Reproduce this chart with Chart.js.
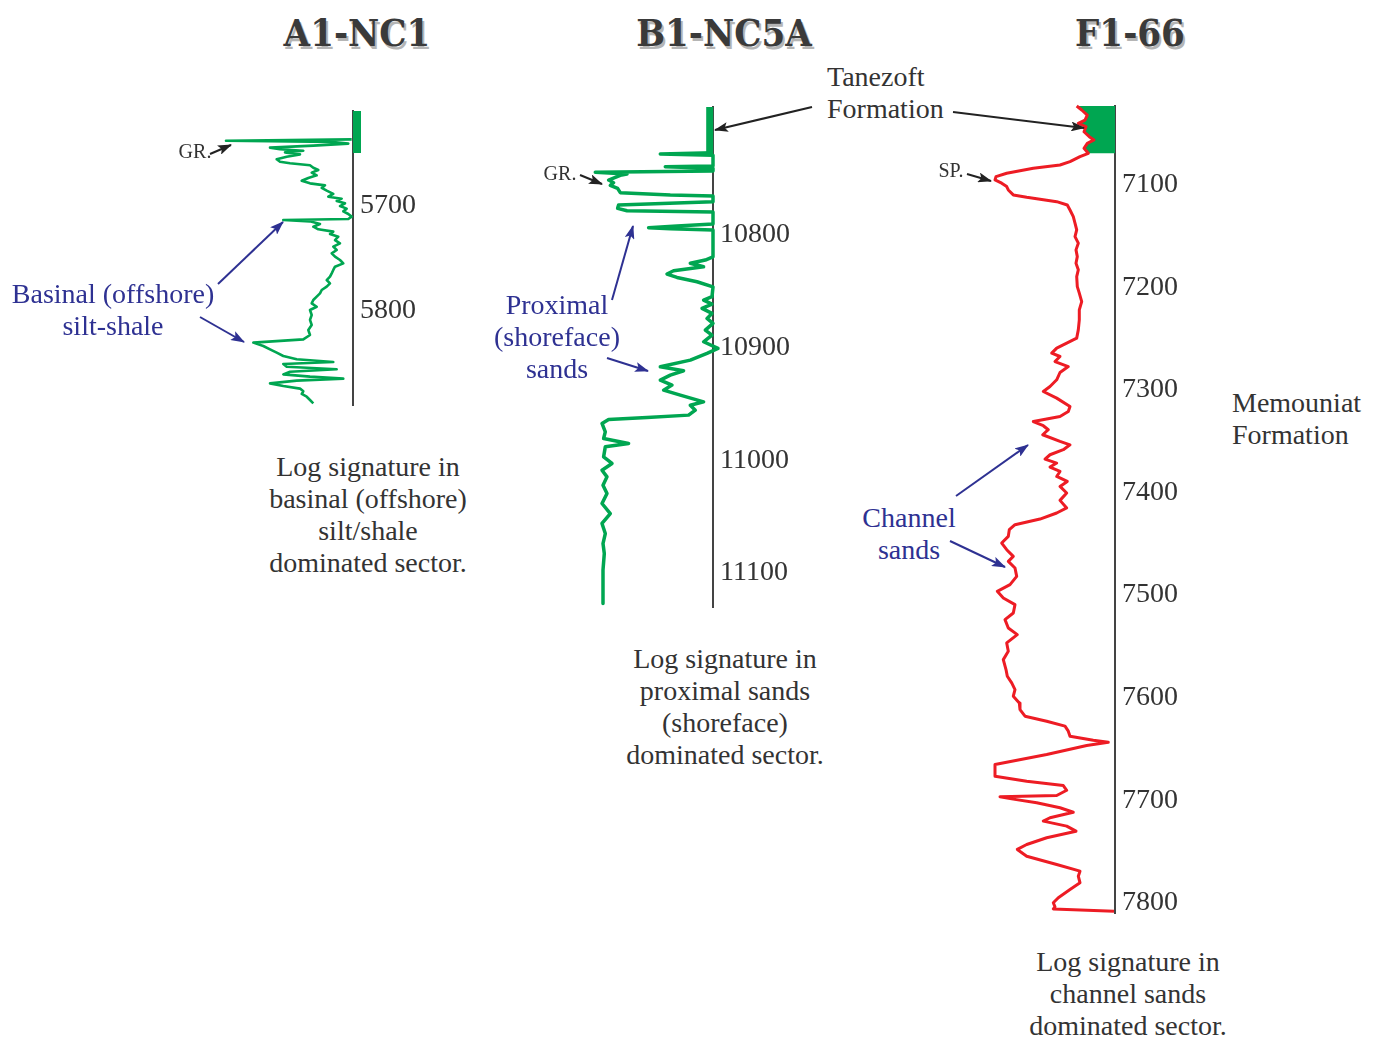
<!DOCTYPE html>
<html>
<head>
<meta charset="utf-8">
<title>Well log signatures</title>
<script src="https://cdn.jsdelivr.net/npm/chart.js@4.4.0/dist/chart.umd.min.js"></script>
<style>
  body { margin: 0; width: 1381px; height: 1038px; background: #fff; position: relative; overflow: hidden;
         font-family: "Liberation Serif", serif; color: #333; }
  .log { position: absolute; }
  .t { position: absolute; white-space: nowrap; font-size: 28px; line-height: 32px; text-align: center; transform: translateX(-50%); }
  .l { position: absolute; white-space: nowrap; font-size: 28px; line-height: 32px; text-align: left; }
  .small { font-size: 20px; line-height: 24px; }
  .blue { color: #2e3192; }
  .title { position: absolute; white-space: nowrap; font-family: "DejaVu Serif Condensed", "DejaVu Serif", serif; font-weight: bold;
           font-size: 38px; color: #3a3a3a; text-shadow: 2px 3px 0 #b5b5b5; transform: translate(-50%, -50%); }
  svg { position: absolute; left: 0; top: 0; }
</style>
</head>
<body>

<div class="title" style="left:357px; top:32px;">A1-NC1</div>
<div class="title" style="left:724px; top:32px;">B1-NC5A</div>
<div class="title" style="left:1130px; top:32px;">F1-66</div>

<div class="log" style="left:197px; top:105px;"><canvas id="logA" width="246" height="306"></canvas></div>
<div class="log" style="left:557px; top:101px;"><canvas id="logB" width="246" height="512"></canvas></div>
<div class="log" style="left:959px; top:100px;"><canvas id="logF" width="246" height="819"></canvas></div>

<div class="l" style="left:827px; top:61px;">Tanezoft<br>Formation</div>
<div class="l" style="left:1232px; top:387px;">Memouniat<br>Formation</div>
<div class="t small" style="left:195px; top:139px;">GR.</div>
<div class="t small" style="left:560px; top:161px;">GR.</div>
<div class="t small" style="left:951px; top:158px;">SP.</div>
<div class="t blue" style="left:113px; top:278px;">Basinal (offshore)<br>silt-shale</div>
<div class="t blue" style="left:557px; top:289px;">Proximal<br>(shoreface)<br>sands</div>
<div class="t blue" style="left:909px; top:502px;">Channel<br>sands</div>
<div class="t" style="left:368px; top:451px;">Log signature in<br>basinal (offshore)<br>silt/shale<br>dominated sector.</div>
<div class="t" style="left:725px; top:643px;">Log signature in<br>proximal sands<br>(shoreface)<br>dominated sector.</div>
<div class="t" style="left:1128px; top:946px;">Log signature in<br>channel sands<br>dominated sector.</div>

<svg width="1381" height="1038">
  <defs>
    <marker id="hk" viewBox="0 0 14 10" refX="13" refY="5" markerWidth="7" markerHeight="5" orient="auto">
      <path d="M0,0 L14,5 L0,10 L3,5 z" fill="#222"/>
    </marker>
    <marker id="hb" viewBox="0 0 14 10" refX="13" refY="5" markerWidth="7" markerHeight="5" orient="auto">
      <path d="M0,0 L14,5 L0,10 L3,5 z" fill="#2e3192"/>
    </marker>
  </defs>
  <g stroke="#222" stroke-width="2" marker-end="url(#hk)">
    <line x1="210" y1="154" x2="231" y2="145"/>
    <line x1="580" y1="175" x2="602" y2="184"/>
    <line x1="967" y1="174" x2="991" y2="181"/>
    <line x1="812" y1="107" x2="715" y2="130"/>
    <line x1="953" y1="112" x2="1084" y2="128"/>
  </g>
  <g stroke="#2e3192" stroke-width="2" marker-end="url(#hb)">
    <line x1="218" y1="284" x2="283" y2="222"/>
    <line x1="200" y1="317" x2="244" y2="342"/>
    <line x1="612" y1="300" x2="633" y2="226"/>
    <line x1="607" y1="358" x2="648" y2="371"/>
    <line x1="956" y1="496" x2="1028" y2="445"/>
    <line x1="950" y1="541" x2="1005" y2="567"/>
  </g>
</svg>

<script>
// A1-NC1 gamma ray (depth ft / API)
const a1Depth = [5637.0, 5638.3, 5639.5, 5641.1, 5643.0, 5644.9, 5646.5, 5647.8, 5649.4, 5651.3, 5653.5, 5656.0, 5658.3,
  5659.8, 5661.7, 5664.0, 5666.2, 5668.7, 5671.3, 5673.8, 5676.4, 5678.9, 5680.8, 5683.3, 5685.9, 5689.0, 5691.6, 5693.5,
  5695.7, 5697.9, 5700.5, 5703.0, 5705.6, 5708.1, 5710.6, 5712.9, 5713.8, 5715.1, 5717.6, 5720.2, 5722.7, 5724.9, 5727.1,
  5729.7, 5732.9, 5736.0, 5739.2, 5742.4, 5745.6, 5748.7, 5751.9, 5755.1, 5758.3, 5761.4, 5764.6, 5767.8, 5771.0, 5774.1,
  5777.3, 5780.5, 5783.7, 5786.8, 5790.0, 5793.2, 5796.4, 5799.5, 5804.3, 5809.0, 5813.8, 5818.6, 5823.3, 5827.5, 5830.6,
  5833.8, 5837.0, 5840.2, 5843.3, 5846.5, 5849.0, 5851.0, 5853.5, 5856.0, 5858.3, 5860.8, 5863.0, 5864.9, 5866.8, 5869.4,
  5871.9, 5874.4, 5877.0, 5879.5, 5882.1, 5885.2, 5888.4];
const a1Gamma = [148.7, 23, 130.3, 145.3, 110.3, 67, 77, 100.3, 82, 97, 83.7, 73.7, 77,
  87, 107, 110.3, 115.3, 108.7, 113.7, 105.3, 98.7, 107, 122, 118.7, 123.7, 130.3, 125.3, 138.7,
  133.7, 142, 137, 143.7, 140.3, 145.3, 148.7, 145.3, 80.3, 107, 117, 110.3, 115.3, 130.3, 127,
  135.3, 132, 137, 130.3, 133.7, 128.7, 132, 137, 140.3, 132, 130.3, 128.7, 127, 123.7, 127,
  123.7, 118.7, 117, 113.7, 110.3, 108.7, 113.7, 107, 108.7, 107, 108.7, 105.3, 107, 100.3, 50.3,
  60.3, 67, 73.7, 80.3, 93.7, 130.3, 80.3, 83.7, 133.7, 87, 80.3, 107, 140.3, 93.7, 67,
  80.3, 97, 100.3, 98.7, 103.7, 107, 110.3];

// B1-NC5A gamma ray
const b1Depth = [10727.5, 10728.6, 10729.8, 10739.3, 10739.9, 10741.3, 10743.7, 10744.9, 10746.4, 10747.5, 10749.3,
  10751.7, 10754.1, 10756.4, 10759.1, 10762.9, 10765.0, 10765.9, 10770.9, 10773.8, 10776.8, 10778.9, 10780.0, 10790.7,
  10792.5, 10794.0, 10794.9, 10796.0, 10819.7, 10822.6, 10825.5, 10828.5, 10832.1, 10835.0, 10838.0, 10841.8, 10846.3,
  10855.1, 10858.1, 10861.6, 10865.4, 10869.9, 10874.3, 10878.7, 10884.7, 10889.1, 10895.0, 10900.9, 10905.3, 10911.3,
  10917.2, 10920.7, 10924.6, 10929.0, 10933.4, 10937.9, 10942.3, 10948.2, 10951.2, 10955.6, 10960.0, 10962.1, 10963.8,
  10967.4, 10974.8, 10980.7, 10985.1, 10988.1, 10997.0, 11002.8, 11008.8, 11014.7, 11022.1, 11029.4, 11038.3, 11047.2,
  11056.0, 11064.9, 11073.8, 11082.6, 11097.4, 11127.0];
const b1Gamma = [150, 97.3, 150, 150, 102.3, 150, 150, 32.3, 64, 57.3, 52.3,
  45.6, 50.6, 47.3, 54.6, 57.3, 107.3, 150, 150, 55.6, 54.6, 64, 150, 150,
  114, 85.6, 107.3, 150, 150, 142.3, 127.3, 140.6, 110.6, 104, 114, 134, 150,
  149, 140.6, 149, 139, 149, 144, 150, 142.3, 149, 140.6, 155, 144, 127.3,
  97.3, 120.6, 107.3, 97.3, 109, 100.6, 117.3, 140.6, 127.3, 132.3, 125.6, 84, 45.6,
  39, 42.3, 40.6, 65.6, 42.3, 40.6, 49, 39, 44, 40, 44, 39, 47.3,
  39, 42.3, 40, 41.3, 40, 40];

// F1-66 spontaneous potential
const f1Depth = [7023, 7026.9, 7031.8, 7036.7, 7039.9, 7043.2, 7048.1, 7052.9, 7056.1, 7059.4, 7064.2, 7069.1, 7072.4,
  7077.3, 7080.5, 7083.7, 7088.6, 7091.9, 7095.1, 7098.3, 7101.6, 7104.9, 7109.7, 7112, 7116.3, 7119.5, 7124.4, 7130.9,
  7137.3, 7143.9, 7150.4, 7156.8, 7163.3, 7169.9, 7176.3, 7182.8, 7189.4, 7199.1, 7205.5, 7213.7, 7221.8, 7231.6, 7241.3,
  7249.4, 7254.3, 7259.1, 7264, 7267.3, 7272.2, 7277.1, 7282.9, 7290, 7296.5, 7301.4, 7307.9, 7316, 7320.9, 7325.8,
  7330.7, 7334.8, 7338.7, 7343.6, 7350.1, 7353.4, 7358.2, 7363.1, 7367.3, 7371.2, 7375.1, 7379.4, 7384.3, 7389.1, 7394,
  7400.4, 7407.6, 7415, 7419.9, 7425.8, 7431.3, 7436.2, 7442.7, 7449.2, 7455.7, 7462.2, 7467.1, 7473.5, 7481.7, 7489.8,
  7496.3, 7502.8, 7509.3, 7517.4, 7523.9, 7532, 7538.5, 7546.6, 7554.8, 7562.9, 7572.6, 7579.1, 7585.6, 7592.1, 7598.6,
  7605.1, 7611.6, 7618.1, 7623, 7627.8, 7632.7, 7637.6, 7641.5, 7643.5, 7646.7, 7655.5, 7665.2, 7676.6, 7681.5, 7685.7,
  7690.3, 7695.4, 7696.7, 7698.7, 7702.5, 7707.4, 7711.7, 7717.1, 7720.4, 7725.3, 7730.2, 7736.6, 7743.2, 7748, 7754.6,
  7762.7, 7769.2, 7774.1, 7780.5, 7787.1, 7795.1, 7800, 7804, 7806, 7808.3];
const f1SP = [111.7, 116.7, 122.3, 120, 113.3, 121, 119, 124.3, 129, 122.3, 119, 123.3, 115,
  105, 95, 68.3, 41.7, 31, 30, 36.7, 41.7, 43.3, 48.3, 61.7, 91.7, 102.3, 105, 108.3,
  110, 111.7, 110, 113.3, 111, 112.3, 111, 113.3, 111.7, 112.3, 114.3, 116.7, 114.3, 114.3, 113.3,
  111.7, 101.7, 91.7, 86.7, 95, 90, 103.3, 95, 91.7, 85, 78.3, 91.7, 105, 103.3, 95,
  68.3, 78.3, 83.3, 77.7, 95, 105, 98.3, 85, 80, 91.7, 85, 95, 91.7, 102.3, 95,
  101.7, 95, 101.7, 91.7, 75, 50, 44.3, 43.3, 36.7, 41.7, 48.3, 43.3, 50, 51.7, 45,
  32.3, 38.3, 50, 48.3, 40, 43.3, 52.3, 41.7, 43.3, 38.3, 41, 42.3, 46.7, 50, 48.3,
  54.3, 55, 60, 81.7, 100, 103.3, 105, 128.3, 143.3, 121.7, 81.7, 30, 30, 61.7, 98.3,
  101.7, 91.7, 35, 46.7, 71.7, 95, 108.3, 85, 78.3, 101.7, 111, 81.7, 61.7, 52.3, 61.7,
  91.7, 115, 113.3, 115, 105, 93.3, 88.3, 90, 88.3, 149];

// depth tick labels, track depth ranges and Tanezoft Formation interval per well
const a1Ticks = [5700, 5800];
const b1Ticks = [10800, 10900, 11000, 11100];
const f1Ticks = [7100, 7200, 7300, 7400, 7500, 7600, 7700, 7800];
const a1Range = [5610, 5890];
const b1Range = [10687, 11130];
const f1Range = [7023, 7810];
const a1Tanezoft = [5610, 5650];
const b1Tanezoft = [10687, 10728];
const f1Tanezoft = [7023, 7069.1];

const GREEN = "#00a651";
const RED = "#ed1c24";

Chart.defaults.font.family = "'Liberation Serif', serif";

function toPoints(depths, values) {
  return depths.map((d, i) => ({ x: values[i], y: d }));
}

function drawLog(id, range, ticks, datasets) {
  return new Chart(document.getElementById(id), {
    type: "line",
    data: {
      datasets: datasets.map((ds) => ({
        pointRadius: 0,
        tension: 0,
        fill: false,
        clip: false,
        borderJoinStyle: "round",
        ...ds,
      })),
    },
    options: {
      responsive: false,
      animation: false,
      layout: { padding: { top: 6, bottom: 6, left: 6, right: 0 } },
      plugins: { legend: { display: false }, tooltip: { enabled: false } },
      scales: {
        x: { type: "linear", display: false, min: 0, max: 150 },
        y: {
          type: "linear",
          position: "right",
          reverse: true,
          min: range[0],
          max: range[1],
          grid: { display: false, drawTicks: false },
          border: { display: true, color: "#444", width: 2 },
          ticks: {
            color: "#333",
            padding: 7,
            font: { size: 28 },
            callback: (v) => String(v),
          },
          afterBuildTicks: (scale) => {
            scale.ticks = ticks.map((v) => ({ value: v }));
          },
          afterFit: (scale) => {
            scale.width = 90;
            scale.paddingTop = 0;
            scale.paddingBottom = 0;
          },
        },
      },
    },
  });
}

// formation marker drawn as a heavy bar beside the track edge
function marker(interval, x, width) {
  return {
    data: interval.map((d) => ({ x: x, y: d })),
    borderColor: GREEN,
    borderWidth: width,
    borderCapStyle: "butt",
    borderJoinStyle: "miter",
    order: 2,
  };
}

drawLog("logA", a1Range, a1Ticks, [
  { data: toPoints(a1Depth, a1Gamma), borderColor: GREEN, borderWidth: 2.6, order: 1 },
  marker(a1Tanezoft, 154, 8),
]);

drawLog("logB", b1Range, b1Ticks, [
  { data: toPoints(b1Depth, b1Gamma), borderColor: GREEN, borderWidth: 3.5, order: 1 },
  marker(b1Tanezoft, 146.7, 7),
]);

// Tanezoft interval on F1-66 is shaded between the SP curve and the track edge
const f1Points = toPoints(f1Depth, f1SP);
const f1Shade = f1Points
  .filter((p) => p.y <= f1Tanezoft[1])
  .concat([{ x: 151, y: f1Tanezoft[1] }, { x: 151, y: f1Tanezoft[0] }]);

drawLog("logF", f1Range, f1Ticks, [
  { data: f1Points, borderColor: RED, borderWidth: 3, order: 1 },
  { data: f1Shade, borderWidth: 0, backgroundColor: GREEN, fill: "shape", order: 2 },
]);
</script>
</body>
</html>
